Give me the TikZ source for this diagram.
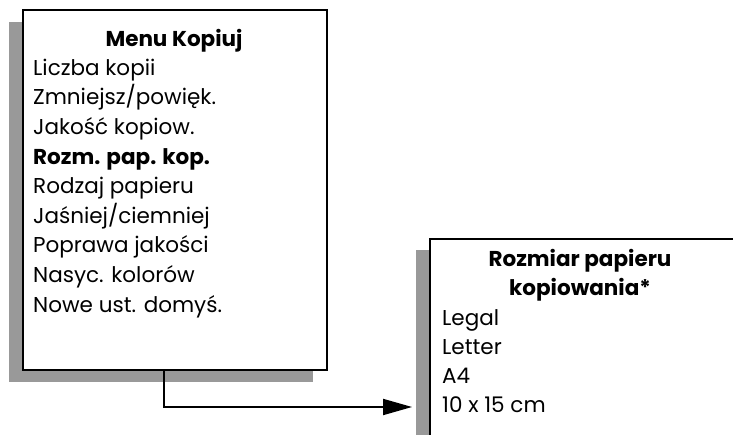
\documentclass[tikz,border=0pt]{standalone}
\usepackage{fontspec}
\setmainfont{Poppins}
\usetikzlibrary{arrows.meta}
\definecolor{shadowgray}{RGB}{153,153,153}
\begin{document}
\begin{tikzpicture}[x=1pt,y=-1pt,
  menubox/.style={draw=black, line width=2pt, fill=white, inner sep=0pt, anchor=north west},
  itemtext/.style={anchor=base west, inner sep=0pt, font=\fontsize{21.5}{26}\selectfont},
  titletext/.style={anchor=base, inner sep=0pt, font=\fontsize{21.5}{26}\selectfont\bfseries},
  boldtext/.style={anchor=base west, inner sep=0pt, font=\fontsize{21.5}{26}\selectfont\bfseries},
  link/.style={line width=1.8pt, -{Triangle[length=29pt,width=16pt]}}]
\useasboundingbox (0,0) rectangle (733,435);
\clip (0,0) rectangle (733,435);
% left menu
\fill[shadowgray] (9,22) rectangle (313,382);
\node[menubox, minimum width=304pt, minimum height=360pt] (m1) at (22,9) {};
\node[titletext] (t1) at (174,46.5) {Menu Kopiuj};
\node[itemtext] (a1) at (33,75.3) {Liczba kopii};
\node[itemtext] (a2) at (33,104.9) {Zmniejsz/powięk.};
\node[itemtext] (a3) at (33,134.5) {Jakość kopiow.};
\node[boldtext] (a4) at (33,164.1) {Rozm. pap. kop.};
\node[itemtext] (a5) at (33,193.7) {Rodzaj papieru};
\node[itemtext] (a6) at (33,223.3) {Jaśniej/ciemniej};
\node[itemtext] (a7) at (33,252.9) {Poprawa jakości};
\node[itemtext] (a8) at (33,282.5) {Nasyc. kolorów};
\node[itemtext] (a9) at (33,312.1) {Nowe ust. domyś.};
% right menu
\fill[shadowgray] (416,250) rectangle (760,460);
\node[menubox, minimum width=330pt, minimum height=230pt] (m2) at (429,238) {};
\node[titletext] (t2a) at (580,266.7) {Rozmiar papieru};
\node[titletext] (t2b) at (580,295.5) {kopiowania*};
\node[itemtext] (b1) at (442,326) {Legal};
\node[itemtext] (b2) at (442,354.5) {Letter};
\node[itemtext] (b3) at (442,383) {A4};
\node[itemtext] (b4) at (442,412.5) {10 x 15 cm};
% connector
\coordinate (tip) at (412,407);
\draw[link] ([xshift=-11pt]m1.south) |- (tip);
\end{tikzpicture}
\end{document}
